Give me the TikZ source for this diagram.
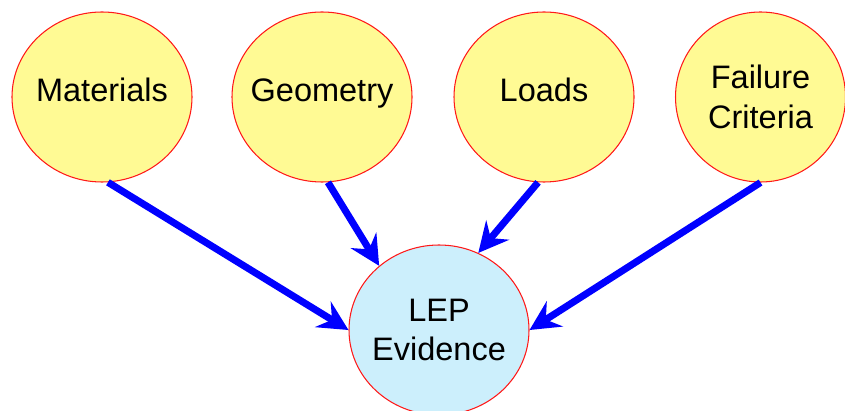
\documentclass[tikz,border=0pt]{standalone}
\usepackage{fontspec}
\setmainfont{Liberation Sans}
\usetikzlibrary{positioning, arrows.meta, shapes.geometric}

\begin{document}
\begin{tikzpicture}[
  every node/.style={font=\fontsize{18.5}{22.5}\selectfont, align=center},
  factor/.style={ellipse, draw=red!90, line width=0.6pt, fill=yellow!42,
                 inner xsep=-8pt, inner ysep=0pt, minimum width=3.6cm, minimum height=3.4cm},
  oneline/.style={text height=0.72em, text depth=0.22em},
  evidence/.style={ellipse, draw=red!90, line width=0.6pt, fill=cyan!20,
                   inner xsep=-8pt, inner ysep=0pt, minimum width=3.6cm, minimum height=3.4cm},
  arrow/.style={-{Stealth[length=17pt, width=17pt, inset=6pt]}, line width=4pt, blue}
]
\useasboundingbox (0,0) rectangle (16.9,8.2);

\node[factor, oneline] (materials) at (2.04, 6.26) {Materials};
\node[factor, oneline] (geometry) at (6.44, 6.26) {Geometry};
\node[factor, oneline] (loads) at (10.88, 6.26) {Loads};
\node[factor, minimum width=3.4cm] (failure) at (15.21, 6.26) {Failure \\ Criteria};

\node[evidence] (lep) at (8.78, 1.6) {LEP \\ Evidence};

\draw[arrow] (materials.-86) -- (lep.west);
\draw[arrow] (geometry.-86) -- (lep.133);
\draw[arrow] (loads.-94) -- (lep.63);
\draw[arrow] (failure.south) -- (lep.east);
\end{tikzpicture}
\end{document}
